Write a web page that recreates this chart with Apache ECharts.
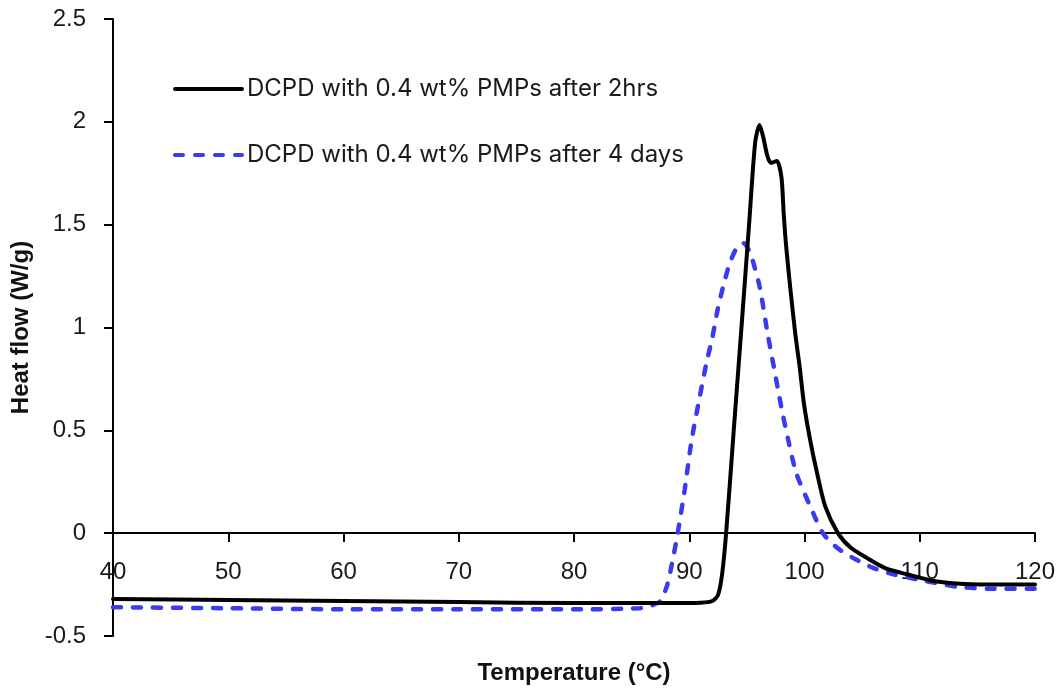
<!DOCTYPE html>
<html>
<head>
<meta charset="utf-8">
<script src="https://cdn.jsdelivr.net/npm/echarts@6/dist/echarts.min.js"></script>
<style>html,body{margin:0;padding:0;background:#fff}#c{width:1061px;height:689px}</style>
</head>
<body>
<div id="c"></div>
<script>
const seriesNames = ["DCPD with 0.4 wt% PMPs after 2hrs", "DCPD with 0.4 wt% PMPs after 4 days"];
const xTitle = "Temperature (°C)";
const yTitle = "Heat flow (W/g)";
const after2hrs = [
  [40,-0.32],[50,-0.325],[60,-0.33],[70,-0.335],[80,-0.34],[88,-0.34],[91,-0.338],[92,-0.33],[92.5,-0.3],
  [92.85,-0.2],[93.2,0],[93.86,0.5],[94.53,1.0],[95.19,1.5],[95.72,1.9],[96.1,1.985],[96.4,1.93],[96.8,1.83],
  [97.1,1.80],[97.6,1.81],[98.0,1.73],[98.2,1.55],[98.4,1.40],[98.75,1.2],[99.2,0.97],
  [99.6,0.8],[99.95,0.63],[100.5,0.45],[101.1,0.29],[101.8,0.13],[102.9,0],[104,-0.07],[105.4,-0.12],
  [107,-0.17],[108.9,-0.2],[111,-0.23],[113.2,-0.245],[116,-0.25],[120,-0.25]
];
const after4days = [
  [40,-0.36],[50,-0.365],[60,-0.37],[70,-0.37],[80,-0.37],[85.7,-0.365],[86.8,-0.35],[87.5,-0.33],[88.1,-0.25],
  [88.6,-0.12],[89.0,0],[89.6,0.21],[90.2,0.45],[90.9,0.66],[91.5,0.83],[92.0,0.95],[92.4,1.07],[92.9,1.19],
  [93.5,1.31],[94.1,1.385],[94.7,1.41],[95.3,1.36],[96.1,1.2],[96.8,0.97],[97.3,0.82],[98.0,0.61],[98.6,0.45],
  [99.3,0.29],[100.5,0.13],[101.6,0],[102.8,-0.07],[104.2,-0.12],[106,-0.17],[107.7,-0.2],[110.3,-0.23],
  [113.2,-0.26],[116,-0.27],[120,-0.27]
];
const chart = echarts.init(document.getElementById('c'), null, {renderer:'canvas'});
const axisFont = {fontFamily:'Liberation Sans', fontSize:24, color:'#1a1a1a'};
const titleFont = {fontFamily:'Liberation Sans', fontWeight:'bold', fontSize:24, color:'#111'};
chart.setOption({
  animation:false,
  backgroundColor:'#fff',
  grid:{left:113, right:26, top:19, bottom:53, containLabel:false, outerBoundsMode:'none'},
  legend:{
    orient:'vertical', left:173, top:77, padding:0, itemWidth:67, itemHeight:14, itemGap:42,
    itemStyle:{opacity:0, borderWidth:0},
    lineStyle:{width:4, cap:'round'},
    textStyle:{fontFamily:'Inter', fontSize:24, color:'#1a1a1a', lineHeight:24},
    data:seriesNames
  },
  xAxis:{
    type:'value', min:40, max:120, interval:10, position:'bottom', offset:-103,
    name:xTitle, nameLocation:'middle', nameGap:128,
    nameTextStyle:titleFont,
    axisLine:{onZero:false, lineStyle:{color:'#000', width:2}},
    axisTick:{show:true, inside:false, length:9, lineStyle:{color:'#000', width:2}},
    axisLabel:Object.assign({margin:27}, axisFont),
    splitLine:{show:false}
  },
  yAxis:{
    type:'value', min:-0.5, max:2.5, interval:0.5,
    name:yTitle, nameLocation:'middle', nameGap:80,
    nameTextStyle:titleFont,
    axisLine:{show:true, lineStyle:{color:'#000', width:2}},
    axisTick:{show:true, inside:false, length:9, lineStyle:{color:'#000', width:2}},
    axisLabel:Object.assign({margin:27}, axisFont),
    splitLine:{show:false}
  },
  series:[
    {name:seriesNames[0], type:'line', data:after2hrs, symbol:'none', smooth:0.25, z:3,
     lineStyle:{color:'#000', width:4, cap:'round', join:'round'}, itemStyle:{color:'#000'}},
    {name:seriesNames[1], type:'line', data:after4days, symbol:'none', smooth:0.25, z:2,
     lineStyle:{color:'#3a3af0', width:4.5, type:[8,12], cap:'round'}, itemStyle:{color:'#3a3af0'}}
  ]
});
</script>
</body>
</html>
